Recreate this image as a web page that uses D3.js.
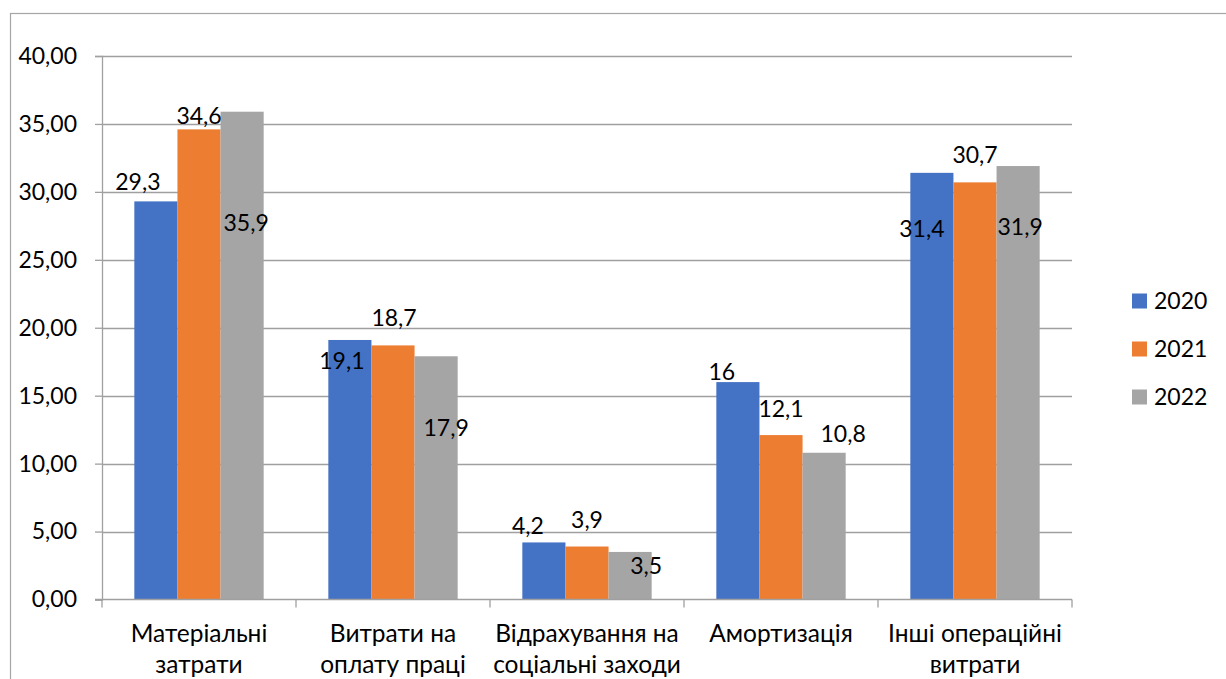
<!DOCTYPE html>
<html>
<head>
<meta charset="utf-8">
<script src="https://cdn.jsdelivr.net/npm/d3@7"></script>
<style>
  html, body { margin: 0; padding: 0; background: #fff; }
  svg { display: block; }
  text { font-family: Lato, "Open Sans", sans-serif; fill: #000; }
</style>
</head>
<body>
<svg id="chart" width="1226" height="679"></svg>
<script>
// Cost structure by item, %
const categories = [
  ["Матеріальні", "затрати"],
  ["Витрати на", "оплату праці"],
  ["Відрахування на", "соціальні заходи"],
  ["Амортизація"],
  ["Інші операційні", "витрати"]
];
const years = ["2020", "2021", "2022"];
const values2020 = [29.3, 19.1, 4.2, 16, 31.4];
const values2021 = [34.6, 18.7, 3.9, 12.1, 30.7];
const values2022 = [35.9, 17.9, 3.5, 10.8, 31.9];
const yTicks = [0, 5, 10, 15, 20, 25, 30, 35, 40];

const colors = ["#4472C4", "#ED7D31", "#A5A5A5"];
// manual nudges of each value label relative to its bar's top centre [dx, dy]
const labelNudge = [
  [[-18, -11], [-8, 29], [-16, -8], [-16, -2], [-10, 64]],
  [[0, -5], [1, -19], [0, -19], [0, -18], [0, -19]],
  [[4, 119], [10, 80], [16, 22], [19, -11], [2, 69]]
];

const series = [values2020, values2021, values2022];
const svg = d3.select("#chart");

const plot = { left: 102, right: 1072, top: 56, bottom: 599.5 };
const fontSize = 23;
const catFontSize = 24.5;
const comma = v => String(v).replace(".", ",");

// outer chart frame
svg.append("rect")
  .attr("x", 10.5).attr("y", 13.5)
  .attr("width", 1300).attr("height", 800)
  .attr("fill", "none").attr("stroke", "#a6a6a6").attr("stroke-width", 1.2);

const x0 = d3.scaleBand()
  .domain(d3.range(categories.length))
  .range([plot.left, plot.right])
  .padding(0);
const bw = x0.bandwidth();
const gap = bw / 4.5 * 0.75;
const x1 = d3.scaleBand()
  .domain(d3.range(years.length))
  .range([gap, bw - gap])
  .padding(0);

const y = d3.scaleLinear().domain([0, 40]).range([plot.bottom, plot.top]);

// horizontal gridlines
svg.append("g")
  .selectAll("line")
  .data(yTicks.filter(t => t > 0))
  .join("line")
  .attr("x1", plot.left).attr("x2", plot.right)
  .attr("y1", d => Math.round(y(d)) + 0.5).attr("y2", d => Math.round(y(d)) + 0.5)
  .attr("stroke", "#a0a0a0").attr("stroke-width", 1.3);

// y axis
const yAxis = svg.append("g")
  .attr("transform", `translate(${plot.left},0)`)
  .call(d3.axisLeft(y).tickValues(yTicks).tickSize(7).tickPadding(18)
    .tickFormat(d => d3.format(".2f")(d).replace(".", ",")));
yAxis.select(".domain").attr("stroke", "#a0a0a0").attr("stroke-width", 1.3);
yAxis.selectAll(".tick line").attr("stroke", "#a0a0a0").attr("stroke-width", 1.3);
yAxis.selectAll(".tick text")
  .style("font-size", fontSize + "px")
  .style("font-family", "Lato, sans-serif")
  .attr("fill", "#000");

// bars
const groups = svg.append("g")
  .selectAll("g")
  .data(series)
  .join("g")
  .attr("fill", (d, i) => colors[i]);

groups.each(function (vals, si) {
  d3.select(this).selectAll("rect")
    .data(vals)
    .join("rect")
    .attr("x", (d, ci) => x0(ci) + x1(si))
    .attr("width", x1.bandwidth())
    .attr("y", d => y(d))
    .attr("height", d => y(0) - y(d));
});

// x axis baseline and category dividers
const xAxis = svg.append("g");
xAxis.append("line")
  .attr("x1", plot.left - 7).attr("x2", plot.right)
  .attr("y1", plot.bottom).attr("y2", plot.bottom)
  .attr("stroke", "#a0a0a0").attr("stroke-width", 1.3);
xAxis.selectAll("line.div")
  .data(d3.range(categories.length + 1))
  .join("line")
  .attr("class", "div")
  .attr("x1", i => plot.left + i * bw).attr("x2", i => plot.left + i * bw)
  .attr("y1", plot.bottom).attr("y2", plot.bottom + 8)
  .attr("stroke", "#a0a0a0").attr("stroke-width", 1.3);

// category labels
const catText = svg.append("g")
  .selectAll("text")
  .data(categories)
  .join("text")
  .attr("text-anchor", "middle")
  .style("font-size", catFontSize + "px");
catText.each(function (lines, ci) {
  d3.select(this).selectAll("tspan")
    .data(lines)
    .join("tspan")
    .attr("x", x0(ci) + bw / 2)
    .attr("y", (d, li) => 642 + li * 31)
    .text(d => d);
});

// value labels
series.forEach((vals, si) => {
  svg.append("g")
    .selectAll("text")
    .data(vals)
    .join("text")
    .attr("text-anchor", "middle")
    .style("font-size", fontSize + "px")
    .attr("x", (d, ci) => x0(ci) + x1(si) + x1.bandwidth() / 2 + labelNudge[si][ci][0])
    .attr("y", (d, ci) => y(d) + labelNudge[si][ci][1])
    .text(d => comma(d));
});

// legend
const legend = svg.append("g")
  .selectAll("g")
  .data(years)
  .join("g")
  .attr("transform", (d, i) => `translate(1132, ${301 + i * 48})`);
legend.append("rect")
  .attr("x", 0).attr("y", -7.5)
  .attr("width", 15).attr("height", 15)
  .attr("fill", (d, i) => colors[i]);
legend.append("text")
  .attr("x", 22).attr("y", 8)
  .style("font-size", fontSize + "px")
  .text(d => d);
</script>
</body>
</html>
